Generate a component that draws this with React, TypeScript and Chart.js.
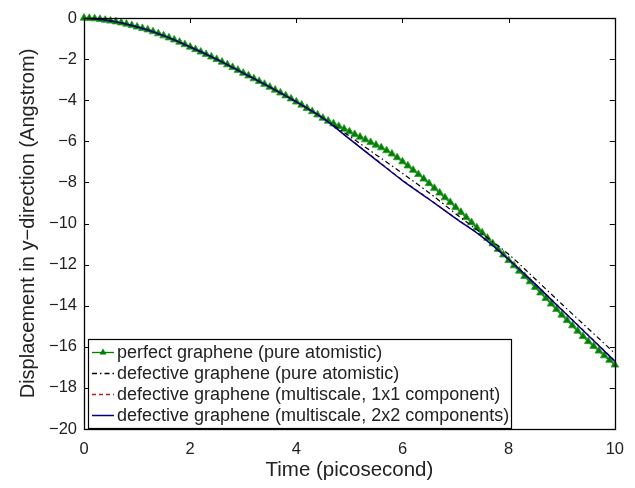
import React, { useEffect, useRef } from "react";
import { Chart, registerables } from "chart.js";
Chart.register(...registerables);

const greenTime = [
  0, 0.1, 0.2, 0.3, 0.4, 0.5, 0.6, 0.7, 0.8, 0.9,
  1, 1.1, 1.2, 1.3, 1.4, 1.5, 1.6, 1.7, 1.8, 1.9,
  2, 2.1, 2.2, 2.3, 2.4, 2.5, 2.6, 2.7, 2.8, 2.9,
  3, 3.1, 3.2, 3.3, 3.4, 3.5, 3.6, 3.7, 3.8, 3.9,
  4, 4.1, 4.2, 4.3, 4.4, 4.5, 4.6, 4.7, 4.8, 4.9,
  5, 5.1, 5.2, 5.3, 5.4, 5.5, 5.6, 5.7, 5.8, 5.9,
  6, 6.1, 6.2, 6.3, 6.4, 6.5, 6.6, 6.7, 6.8, 6.9,
  7, 7.1, 7.2, 7.3, 7.4, 7.5, 7.6, 7.7, 7.8, 7.9,
  8, 8.1, 8.2, 8.3, 8.4, 8.5, 8.6, 8.7, 8.8, 8.9,
  9, 9.1, 9.2, 9.3, 9.4, 9.5, 9.6, 9.7, 9.8, 9.9,
  10,
];
const greenDisp = [
  0, -0.01, -0.03, -0.06, -0.1, -0.14, -0.18, -0.23, -0.29, -0.36,
  -0.43, -0.5, -0.57, -0.66, -0.76, -0.86, -0.96, -1.06, -1.17, -1.29,
  -1.41, -1.53, -1.65, -1.77, -1.89, -2.01, -2.14, -2.27, -2.4, -2.54,
  -2.68, -2.81, -2.95, -3.08, -3.22, -3.36, -3.5, -3.64, -3.78, -3.93,
  -4.08, -4.23, -4.39, -4.55, -4.71, -4.87, -5.01, -5.14, -5.27, -5.4,
  -5.53, -5.66, -5.79, -5.92, -6.05, -6.18, -6.31, -6.45, -6.61, -6.79,
  -6.99, -7.19, -7.4, -7.61, -7.83, -8.05, -8.28, -8.51, -8.74, -8.97,
  -9.21, -9.45, -9.7, -9.95, -10.2, -10.45, -10.71, -10.98, -11.25, -11.52,
  -11.79, -12.05, -12.31, -12.57, -12.83, -13.1, -13.37, -13.64, -13.91, -14.18,
  -14.45, -14.71, -14.97, -15.23, -15.49, -15.74, -15.97, -16.2, -16.43, -16.65,
  -16.88,
];

const defectTime = [0, 0.5, 1, 1.5, 2, 2.5, 3, 3.5, 4, 4.5, 5, 5.5, 6, 6.5, 7, 7.5, 8, 8.5, 9, 9.5, 10];
const blackDisp = [0, -0.14, -0.43, -0.86, -1.41, -2.01, -2.68, -3.36, -4.08, -4.87, -5.75, -6.65, -7.56, -8.5, -9.52, -10.5, -11.5, -12.7, -13.92, -15.12, -16.32];
const redDisp = [0, -0.14, -0.43, -0.86, -1.41, -2.01, -2.68, -3.36, -4.08, -4.87, -5.87, -6.88, -7.89, -8.81, -9.74, -10.64, -11.73, -12.93, -14.18, -15.43, -16.68];
const blueDisp = [0, -0.14, -0.43, -0.86, -1.41, -2.01, -2.68, -3.36, -4.08, -4.87, -5.88, -6.9, -7.91, -8.82, -9.75, -10.65, -11.75, -12.95, -14.2, -15.45, -16.7];

const xTicks = [0, 2, 4, 6, 8, 10];
const yTicks = [0, -2, -4, -6, -8, -10, -12, -14, -16, -18, -20];

const seriesLabels = [
  "perfect graphene (pure atomistic)",
  "defective graphene (pure atomistic)",
  "defective graphene (multiscale, 1x1 component)",
  "defective graphene (multiscale, 2x2 components)",
];
const xTitle = "Time (picosecond)";
const yTitle = "Displacement in y\u2212direction (Angstrom)";

const FONT = "'Liberation Sans', Arial, Helvetica, sans-serif";
const GREEN = "#008000";
const BLACK = "#000000";
const RED = "#b02020";
const BLUE = "#000080";
const TEXT = "#222222";

const fmt = (v: number) => (v < 0 ? "\u2212" + Math.abs(v) : String(v));

const boxPlugin = {
  id: "matlabBox",
  afterDatasetsDraw(chart: any) {
    const { ctx, chartArea: a, scales } = chart;
    const xs = scales.x;
    const ys = scales.y;
    ctx.save();
    ctx.strokeStyle = "#000";
    ctx.lineWidth = 1;
    const tl = 5;
    ctx.beginPath();
    for (const t of xTicks) {
      const px = Math.round(xs.getPixelForValue(t)) + 0.5;
      ctx.moveTo(px, a.bottom);
      ctx.lineTo(px, a.bottom - tl);
      ctx.moveTo(px, a.top);
      ctx.lineTo(px, a.top + tl);
    }
    for (const t of yTicks) {
      const py = Math.round(ys.getPixelForValue(t)) + 0.5;
      ctx.moveTo(a.left, py);
      ctx.lineTo(a.left + tl, py);
      ctx.moveTo(a.right, py);
      ctx.lineTo(a.right - tl, py);
    }
    ctx.stroke();
    ctx.lineWidth = 1.3;
    ctx.strokeRect(Math.round(a.left) + 0.5, Math.round(a.top) + 0.5, Math.round(a.right - a.left), Math.round(a.bottom - a.top));

    // legend (inside, lower-left)
    const lx = a.left + 4;
    const lw = 423;
    const lh = 89;
    const ly = a.bottom - 1 - lh;
    ctx.fillStyle = "#fff";
    ctx.fillRect(lx, ly, lw, lh);
    ctx.lineWidth = 1.2;
    ctx.strokeStyle = "#000";
    ctx.strokeRect(lx + 0.5, ly + 0.5, lw, lh);
    const rowH = 21;
    const styles = [
      { color: GREEN, dash: [] as number[], marker: true },
      { color: BLACK, dash: [5, 3, 1.5, 3], marker: false },
      { color: RED, dash: [4, 3], marker: false },
      { color: BLUE, dash: [] as number[], marker: false },
    ];
    ctx.font = "18px " + FONT;
    ctx.textBaseline = "middle";
    ctx.textAlign = "left";
    seriesLabels.forEach((lab, i) => {
      const cy = ly + 13 + i * rowH;
      const s = styles[i];
      ctx.strokeStyle = s.color;
      ctx.lineWidth = i === 3 ? 1.5 : 1.3;
      ctx.setLineDash(s.dash);
      ctx.beginPath();
      ctx.moveTo(lx + 4, cy + 0.5);
      ctx.lineTo(lx + 26, cy + 0.5);
      ctx.stroke();
      ctx.setLineDash([]);
      if (s.marker) {
        const mx = lx + 15;
        ctx.fillStyle = GREEN;
        ctx.beginPath();
        ctx.moveTo(mx, cy - 3.5);
        ctx.lineTo(mx + 3.5, cy + 2.5);
        ctx.lineTo(mx - 3.5, cy + 2.5);
        ctx.closePath();
        ctx.fill();
      }
      ctx.fillStyle = TEXT;
      ctx.fillText(lab, lx + 29, cy + 1);
    });
    ctx.restore();
  },
};

export default function App() {
  const ref = useRef<HTMLCanvasElement | null>(null);
  useEffect(() => {
    if (!ref.current) return;
    const mk = (t: number[], v: number[]) => t.map((x, i) => ({ x, y: v[i] }));
    const chart = new Chart(ref.current, {
      type: "line",
      data: {
        datasets: [
          {
            label: seriesLabels[0],
            data: mk(greenTime, greenDisp),
            borderColor: GREEN,
            backgroundColor: GREEN,
            borderWidth: 1.6,
            pointStyle: "triangle",
            pointRadius: 4.4,
            pointBorderWidth: 0.8,
            pointBorderColor: "#2a9a2a",
            pointBackgroundColor: GREEN,
            order: 4,
            clip: false as any,
          },
          {
            label: seriesLabels[1],
            data: mk(defectTime, blackDisp),
            borderColor: BLACK,
            borderWidth: 1.2,
            borderDash: [5, 3, 1.5, 3],
            pointRadius: 0,
            cubicInterpolationMode: "monotone",
            order: 3,
          },
          {
            label: seriesLabels[2],
            data: mk(defectTime, redDisp),
            borderColor: RED,
            borderWidth: 1.2,
            borderDash: [4, 3],
            pointRadius: 0,
            cubicInterpolationMode: "monotone",
            order: 2,
          },
          {
            label: seriesLabels[3],
            data: mk(defectTime, blueDisp),
            borderColor: BLUE,
            borderWidth: 1.5,
            pointRadius: 0,
            cubicInterpolationMode: "monotone",
            order: 1,
          },
        ],
      },
      options: {
        animation: false,
        responsive: true,
        maintainAspectRatio: false,
        layout: { padding: { left: 0, top: 18, right: 10, bottom: 0 } },
        plugins: { legend: { display: false }, tooltip: { enabled: false } },
        scales: {
          x: {
            type: "linear",
            min: 0,
            max: 10,
            grid: { display: false, drawTicks: false },
            border: { display: false },
            afterBuildTicks: (s: any) => {
              s.ticks = xTicks.map((v) => ({ value: v }));
            },
            afterFit: (s: any) => {
              s.height = 59;
            },
            ticks: {
              padding: 11,
              color: TEXT,
              font: { family: FONT, size: 16.5 },
              callback: (v: any) => fmt(Number(v)),
              maxRotation: 0,
            },
            title: {
              display: true,
              text: xTitle,
              color: TEXT,
              font: { family: FONT, size: 20.5 },
              padding: { top: 0, bottom: 5 },
            },
          },
          y: {
            type: "linear",
            min: -20,
            max: 0,
            grid: { display: false, drawTicks: false },
            border: { display: false },
            afterBuildTicks: (s: any) => {
              s.ticks = yTicks.map((v) => ({ value: v }));
            },
            afterFit: (s: any) => {
              s.width = 84;
            },
            ticks: {
              padding: 7,
              color: TEXT,
              font: { family: FONT, size: 16.5 },
              callback: (v: any) => fmt(Number(v)),
            },
            title: {
              display: true,
              text: yTitle,
              color: TEXT,
              font: { family: FONT, size: 20 },
              padding: { top: 16, bottom: 0 },
            },
          },
        },
      } as any,
      plugins: [boxPlugin],
    });
    return () => chart.destroy();
  }, []);
  return (
    <div style={{ position: "absolute", left: 0, top: 0, width: 635, height: 488, background: "#fff" }}>
      <canvas ref={ref} />
    </div>
  );
}
